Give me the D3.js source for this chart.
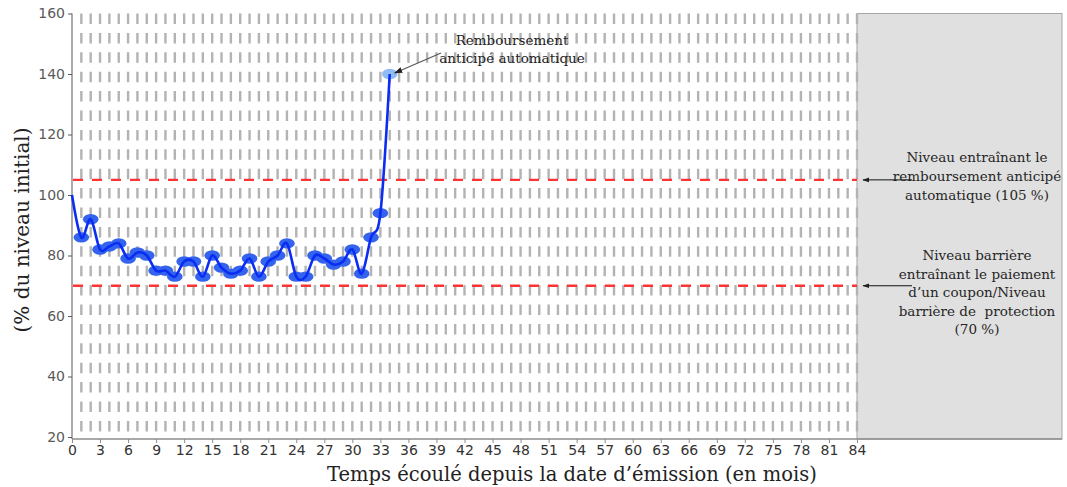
<!DOCTYPE html>
<html><head><meta charset="utf-8">
<script src="https://cdn.jsdelivr.net/npm/d3@7"></script>
<style>body{margin:0;background:#fff}svg{display:block}text{white-space:pre}</style>
</head><body>
<svg id="c" width="1067" height="487"></svg>
<script>
// ---- data ----
const months = [0,1,2,3,4,5,6,7,8,9,10,11,12,13,14,15,16,17,18,19,20,21,22,23,24,25,26,27,28,29,30,31,32,33,34];
const levels = [100,86,92,82,83,84,79,81,80,75,75,73,78,78,73,80,76,74,75,79,73,78,80,84,73,73,80,79,77,78,82,74,86,94,140];
const xTicks = d3.range(0, 85, 3);
const yTicks = [20,40,60,80,100,120,140,160];
const gridMonths = d3.range(1, 85);
const autocallLevel = 105;
const barrierLevel = 70;
const xTitle = "Temps écoulé depuis la date d’émission (en mois)";
const yTitle = "(% du niveau initial)";
const noteRedemption = ["Remboursement", "anticipé automatique"];
const noteAutocall = ["Niveau entraînant le", "remboursement anticipé", "automatique (105 %)"];
const noteBarrier = ["Niveau barrière", "entraînant le paiement", "d’un coupon/Niveau", "barrière de  protection", "(70 %)"];

// ---- layout ----
const svg = d3.select("#c");
const L = 72, T = 13.5, B = 439, R84 = 857, RBOX = 1062;
const x = d3.scaleLinear().domain([0, 84]).range([L, R84]);
const y = d3.scaleLinear().domain([20, 160]).range([437, T]);
const serif = "'DejaVu Serif', serif";
const sans = "'DejaVu Sans', sans-serif";

// grey box after 84 months
svg.append("rect").attr("x", x(84)).attr("y", T).attr("width", RBOX - x(84)).attr("height", B - T)
  .attr("fill", "#e0e0e0").attr("stroke", "#a6a6a6").attr("stroke-width", 1);

// vertical dashed grid
svg.append("g").selectAll("line").data(gridMonths).join("line")
  .attr("x1", d => x(d)).attr("x2", d => x(d)).attr("y1", T).attr("y2", B - 2)
  .attr("stroke", "#b3b3b3").attr("stroke-width", 2.4).attr("stroke-dasharray", "10.5,8.9");

// red reference lines
[autocallLevel, barrierLevel].forEach(v => {
  svg.append("line").attr("x1", x(0) + 1).attr("x2", x(84)).attr("y1", y(v)).attr("y2", y(v))
    .attr("stroke", "#ff3333").attr("stroke-width", 2.4).attr("stroke-dasharray", "10,9");
});

// axes
const yAxis = d3.axisLeft(y).tickValues(yTicks).tickSize(4).tickPadding(3);
const gy = svg.append("g").attr("transform", `translate(${L},0)`).call(yAxis);
gy.select(".domain").attr("d", `M-0,${T}V${B}`).attr("stroke", "#595959");
gy.selectAll(".tick line").attr("stroke", "#595959");
gy.selectAll("text").attr("font-family", sans).attr("font-size", 14).attr("fill", "#595959");

const xAxis = d3.axisBottom(x).tickValues(xTicks).tickSize(4).tickPadding(2);
const gx = svg.append("g").attr("transform", `translate(0,${B})`).call(xAxis);
gx.select(".domain").attr("d", `M${L},0H${RBOX}`).attr("stroke", "#8c8c8c").attr("stroke-width", 1.5);
gx.selectAll(".tick line").attr("stroke", "#8c8c8c");
gx.selectAll("text").attr("font-family", sans).attr("font-size", 14).attr("fill", "#333");

// markers
const pts = months.map((m, i) => ({m, v: levels[i]}));
svg.append("g").selectAll("ellipse").data(pts.slice(1, pts.length - 1)).join("ellipse")
  .attr("cx", d => x(d.m)).attr("cy", d => y(d.v)).attr("rx", 7.8).attr("ry", 5.2)
  .attr("fill", "#3463ee");
const last = pts[pts.length - 1];
svg.append("ellipse").attr("cx", x(last.m)).attr("cy", y(last.v)).attr("rx", 7.8).attr("ry", 5.2)
  .attr("fill", "#8fbcf4");

// line
const line = d3.line().x(d => x(d.m)).y(d => y(d.v)).curve(d3.curveCardinal.tension(0));
svg.append("path").datum(pts).attr("d", line).attr("fill", "none")
  .attr("stroke", "#0b2cf2").attr("stroke-width", 2.6);

// arrow markers
const defs = svg.append("defs");
defs.append("marker").attr("id", "ah").attr("viewBox", "0 0 10 10").attr("refX", 9).attr("refY", 5)
  .attr("markerWidth", 7).attr("markerHeight", 7).attr("orient", "auto-start-reverse")
  .append("path").attr("d", "M0,1.5L10,5L0,8.5Z").attr("fill", "#222");

// redemption note
const tn = svg.append("text").attr("font-family", serif).attr("font-size", 13.5).attr("fill", "#222")
  .attr("text-anchor", "middle");
noteRedemption.forEach((s, i) => tn.append("tspan").attr("x", 512).attr("y", 45 + i * 17.5).text(s));
svg.append("line").attr("x1", 441).attr("y1", 53).attr("x2", x(last.m) + 5).attr("y2", y(last.v) - 1)
  .attr("stroke", "#555").attr("stroke-width", 1.2).attr("marker-end", "url(#ah)");

// right notes
const t1 = svg.append("text").attr("font-family", serif).attr("font-size", 13.5).attr("fill", "#262626")
  .attr("text-anchor", "middle");
noteAutocall.forEach((s, i) => t1.append("tspan").attr("x", 977).attr("y", 162 + i * 19).text(s));
const t2 = svg.append("text").attr("font-family", serif).attr("font-size", 13.5).attr("fill", "#262626")
  .attr("text-anchor", "middle");
noteBarrier.forEach((s, i) => t2.append("tspan").attr("x", 977).attr("y", 260 + i * 18.5).text(s));
[autocallLevel, barrierLevel].forEach(v => {
  svg.append("line").attr("x1", 912).attr("x2", x(84) + 6).attr("y1", y(v)).attr("y2", y(v))
    .attr("stroke", "#111").attr("stroke-width", 1).attr("marker-end", "url(#ah)");
});

// axis titles
svg.append("text").attr("x", 572).attr("y", 481).attr("text-anchor", "middle")
  .attr("font-family", serif).attr("font-size", 19.5).attr("fill", "#222").text(xTitle);
svg.append("text").attr("transform", "translate(29,230) rotate(-90)").attr("text-anchor", "middle")
  .attr("font-family", serif).attr("font-size", 20).attr("fill", "#222").text(yTitle);
</script>
</body></html>
